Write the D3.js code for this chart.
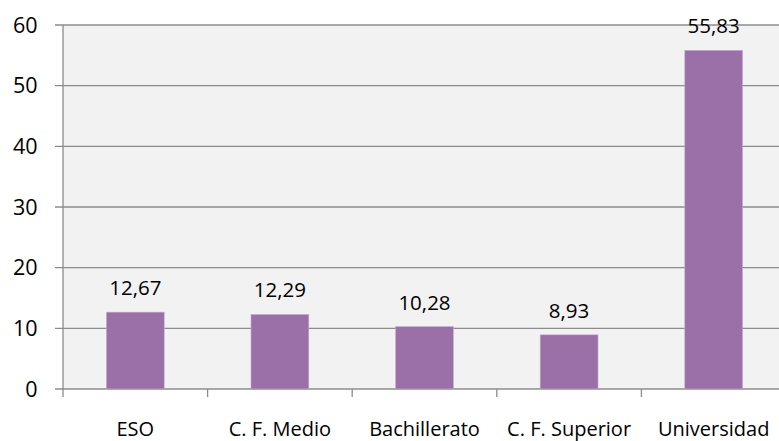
<!DOCTYPE html>
<html><head><meta charset="utf-8">
<script src="https://cdn.jsdelivr.net/npm/d3@7"></script>
<style>html,body{margin:0;padding:0;background:#fff;overflow:hidden}</style>
</head><body>
<script>
const categories = ["ESO", "C. F. Medio", "Bachillerato", "C. F. Superior", "Universidad"];
const values = [12.67, 12.29, 10.28, 8.93, 55.83];
const valueLabels = ["12,67", "12,29", "10,28", "8,93", "55,83"];
const yTicks = [0, 10, 20, 30, 40, 50, 60];

const W = 779, H = 441;
const m = {left: 63, top: 25, right: -7, bottom: 52};
const svg = d3.select("body").append("svg").attr("width", W).attr("height", H);
const font = "'Open Sans', sans-serif";

const x = d3.scaleBand().domain(categories).range([m.left, W - m.right]).paddingInner(0).paddingOuter(0);
const y = d3.scaleLinear().domain([0, 60]).range([H - m.bottom, m.top]);

svg.append("rect").attr("x", m.left).attr("y", m.top)
  .attr("width", W - m.right - m.left).attr("height", y(0) - m.top).attr("fill", "#f2f2f2");

// gridlines
svg.append("g").selectAll("line").data(yTicks).join("line")
  .attr("x1", 55).attr("x2", W - m.right).attr("y1", d => y(d)).attr("y2", d => y(d))
  .attr("stroke", "#8c8c8c").attr("stroke-width", 1.3);

// y axis line
svg.append("line").attr("x1", m.left).attr("x2", m.left).attr("y1", m.top).attr("y2", y(0) + 8)
  .attr("stroke", "#8c8c8c").attr("stroke-width", 1.3);

// category ticks
const xTickPos = categories.map(c => x(c)).slice(1);
svg.append("g").selectAll("line").data(xTickPos).join("line")
  .attr("x1", d => d).attr("x2", d => d).attr("y1", y(0)).attr("y2", y(0) + 8)
  .attr("stroke", "#8c8c8c").attr("stroke-width", 1.3);

// y labels
svg.append("g").selectAll("text").data(yTicks).join("text")
  .attr("x", 37.5).attr("y", d => y(d)).attr("dy", "0.36em").attr("text-anchor", "end")
  .attr("font-family", font).attr("font-size", 21.5).attr("fill", "#000").text(d => d);

const bw = x.bandwidth() * 0.4;
svg.append("g").selectAll("rect").data(values).join("rect")
  .attr("x", (d, i) => x(categories[i]) + x.bandwidth() / 2 - bw / 2)
  .attr("y", d => y(d)).attr("width", bw).attr("height", d => y(0) - y(d))
  .attr("fill", "#9b70a8").attr("stroke", "#c7afd0").attr("stroke-width", 0.6);

svg.append("g").selectAll("text").data(values).join("text")
  .attr("x", (d, i) => x(categories[i]) + x.bandwidth() / 2)
  .attr("y", d => y(d) - 17).attr("text-anchor", "middle")
  .attr("font-family", font).attr("font-size", 20.5).attr("fill", "#000")
  .text((d, i) => valueLabels[i]);

svg.append("g").selectAll("text").data(categories).join("text")
  .attr("x", d => x(d) + x.bandwidth() / 2).attr("y", 435.5).attr("text-anchor", "middle")
  .attr("font-family", font).attr("font-size", 20).attr("fill", "#000").text(d => d);
</script>
</body></html>
